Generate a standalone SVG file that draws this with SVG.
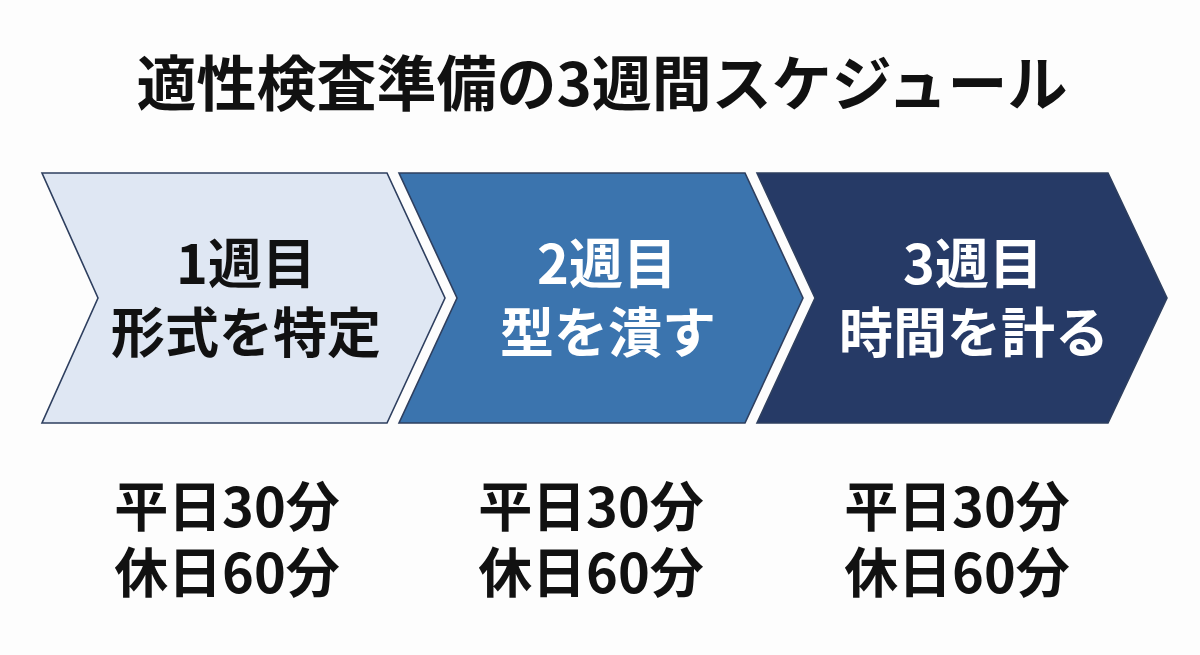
<svg xmlns="http://www.w3.org/2000/svg" width="1200" height="655" viewBox="0 0 1200 655">
<style>
text{font-family:"Noto Sans CJK JP","Noto Sans",sans-serif;font-weight:700;text-anchor:middle}
.title{font-size:60px;fill:#111111}
.lbl{font-size:54px}
.dark{fill:#111111}
.light{fill:#ffffff}
.note{font-size:54px;fill:#111111}
.chev{stroke:#2e3f5f;stroke-width:1.6;stroke-linejoin:miter}
</style>
<rect width="1200" height="655" fill="#fdfdfd"/>
<text class="title" x="602" y="106">適性検査準備の3週間スケジュール</text>
<g id="week1">
<polygon class="chev" points="42,173 387,173 445,298 387,423 42,423 98,298" fill="#dfe7f3"/>
<text class="lbl dark" x="246" y="284">1週目<tspan x="246" dy="69">形式を特定</tspan></text>
</g>
<g id="week2">
<polygon class="chev" points="399,173 745,173 803,298 745,423 399,423 457,298" fill="#3b74ae"/>
<text class="lbl light" x="607" y="284">2週目<tspan x="608" dy="69">型を潰す</tspan></text>
</g>
<g id="week3">
<polygon class="chev" points="757,173 1108,173 1167,298 1108,423 757,423 815,298" fill="#263a66"/>
<text class="lbl light" x="973" y="284">3週目<tspan x="974" dy="69">時間を計る</tspan></text>
</g>
<g id="note1">
<text class="note" x="227" y="527">平日30分<tspan x="227" dy="66">休日60分</tspan></text>
</g>
<g id="note2">
<text class="note" x="591" y="527">平日30分<tspan x="591" dy="66">休日60分</tspan></text>
</g>
<g id="note3">
<text class="note" x="957" y="527">平日30分<tspan x="957" dy="66">休日60分</tspan></text>
</g>
<g id="connectors"></g>
</svg>
